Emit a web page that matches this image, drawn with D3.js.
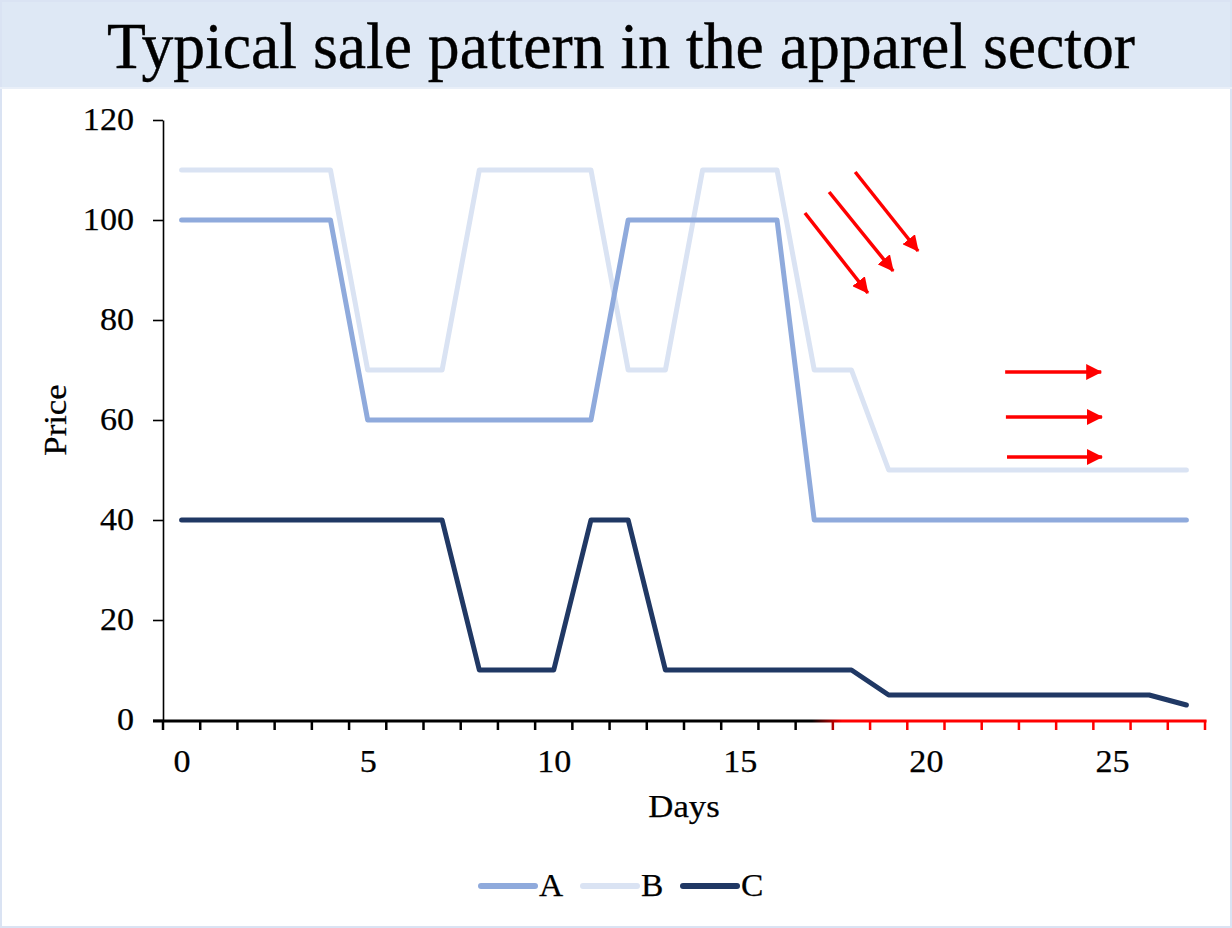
<!DOCTYPE html>
<html>
<head>
<meta charset="utf-8">
<script src="https://cdn.jsdelivr.net/npm/d3@7"></script>
<style>
  html, body { margin: 0; padding: 0; background: #fff; }
  svg { display: block; }
  text { font-family: "Liberation Serif", "Times New Roman", serif; fill: #000; }
</style>
</head>
<body>
<svg id="chart" width="1232" height="928"></svg>
<script>
// ---- data ----
const days = d3.range(0, 28);
const seriesA = [100,100,100,100,100,60,60,60,60,60,60,60,100,100,100,100,100,40,40,40,40,40,40,40,40,40,40,40];
const seriesB = [110,110,110,110,110,70,70,70,110,110,110,110,70,70,110,110,110,70,70,50,50,50,50,50,50,50,50,50];
const seriesC = [40,40,40,40,40,40,40,40,10,10,10,40,40,10,10,10,10,10,10,5,5,5,5,5,5,5,5,3];
const seriesNames = ["A", "B", "C"];
const seriesColors = ["#8FAADC", "#DAE3F3", "#203864"];
const yTicks = [0, 20, 40, 60, 80, 100, 120];
const xLabelTicks = [0, 5, 10, 15, 20, 25];
// annotation arrows in (day, price) units: [x0, y0, x1, y1]
const fallArrows = [[16.75, 101.4, 18.44, 85.4], [17.40, 105.6, 19.12, 89.8], [18.10, 109.6, 19.79, 93.8]];
const flatArrows = [[22.13, 69.6, 24.71, 69.6], [22.15, 60.6, 24.73, 60.6], [22.18, 52.6, 24.73, 52.6]];

const W = 1232, H = 928;
const FONT = "Liberation Serif, Times New Roman, serif";
const svg = d3.select("#chart");

// widen glyphs a little (the labels are set wide in this layout)
function widen(sel, f) {
  sel.each(function () {
    const len = this.getComputedTextLength();
    d3.select(this).attr("textLength", len * f).attr("lengthAdjust", "spacingAndGlyphs");
  });
}

// background and header band
svg.append("rect").attr("x", 0).attr("y", 0).attr("width", W).attr("height", H).attr("fill", "#fff");
svg.append("rect").attr("x", 0).attr("y", 0).attr("width", W).attr("height", 87).attr("fill", "#DEE8F5");
svg.append("rect").attr("x", 1).attr("y", 1).attr("width", W - 2).attr("height", H - 2)
  .attr("fill", "none").attr("stroke", "#DAE3F3").attr("stroke-width", 2);
svg.append("line").attr("x1", 0).attr("x2", W).attr("y1", 88).attr("y2", 88)
  .attr("stroke", "#E9EFF8").attr("stroke-width", 2);

svg.append("text")
  .attr("x", 107).attr("y", 68)
  .attr("textLength", 1028).attr("lengthAdjust", "spacingAndGlyphs")
  .style("font-size", "65px")
  .style("stroke", "#000").style("stroke-width", 0.4)
  .text("Typical sale pattern in the apparel sector");

// scales
const x = d3.scaleLinear().domain([-0.5, 27.5]).range([163, 1205]);
const y = d3.scaleLinear().domain([0, 120]).range([720, 120]);

// gradient: axis turns from black to red
const defs = svg.append("defs");
const grad = defs.append("linearGradient").attr("id", "axisGrad")
  .attr("gradientUnits", "userSpaceOnUse")
  .attr("x1", 812).attr("x2", 842).attr("y1", 0).attr("y2", 0);
grad.append("stop").attr("offset", 0).attr("stop-color", "#000");
grad.append("stop").attr("offset", 1).attr("stop-color", "#FF0000");

defs.append("marker").attr("id", "arrowHead")
  .attr("viewBox", "0 0 16 16").attr("refX", 15).attr("refY", 8)
  .attr("markerWidth", 16).attr("markerHeight", 16)
  .attr("markerUnits", "userSpaceOnUse").attr("orient", "auto")
  .append("path").attr("d", "M0,0 L16,8 L0,16 Z").attr("fill", "#FF0000");

// y axis
const yAxis = svg.append("g").attr("transform", `translate(${x(-0.5)},0)`)
  .call(d3.axisLeft(y).tickValues(yTicks).tickSize(10).tickSizeOuter(0).tickPadding(19));
yAxis.select(".domain").attr("stroke", "#000").attr("stroke-width", 1.6);
yAxis.selectAll(".tick line").attr("stroke", "#000").attr("stroke-width", 1.6);
yAxis.selectAll(".tick text").style("font-size", "31px").style("font-family", FONT)
  .style("stroke", "#000").style("stroke-width", 0.25);
widen(yAxis.selectAll(".tick text"), 1.1);

// x axis: tick marks sit on the category boundaries
const boundaries = d3.range(-0.5, 28, 1);
const xAxisAbs = svg.append("g");
xAxisAbs.append("line")
  .attr("x1", x(-0.5) - 10).attr("x2", x(27.5) + 1.5)
  .attr("y1", y(0) + 1).attr("y2", y(0) + 1.001)
  .attr("stroke", "url(#axisGrad)").attr("stroke-width", 3);
xAxisAbs.selectAll("line.tk").data(boundaries).join("line").attr("class", "tk")
  .attr("x1", d => x(d)).attr("x2", d => x(d) + 0.001)
  .attr("y1", y(0)).attr("y2", y(0) + 10)
  .attr("stroke", "url(#axisGrad)").attr("stroke-width", 2.5);

const xLabels = svg.append("g").attr("transform", `translate(0,${y(0)})`)
  .call(d3.axisBottom(x).tickValues(xLabelTicks).tickSize(0).tickPadding(30));
xLabels.select(".domain").remove();
xLabels.selectAll(".tick text").style("font-size", "31px").style("font-family", FONT)
  .style("stroke", "#000").style("stroke-width", 0.25);
widen(xLabels.selectAll(".tick text"), 1.1);

// axis titles
const priceT = svg.append("text").attr("transform", "translate(66,420) rotate(-90)")
  .attr("text-anchor", "middle").style("font-size", "31px")
  .style("stroke", "#000").style("stroke-width", 0.25).text("Price");
widen(priceT, 1.12);
const daysT = svg.append("text").attr("x", 684).attr("y", 817)
  .attr("text-anchor", "middle").style("font-size", "31px")
  .style("stroke", "#000").style("stroke-width", 0.25).text("Days");
widen(daysT, 1.12);

// series lines
const line = d3.line().x((d, i) => x(days[i])).y(d => y(d));
const allSeries = [seriesA, seriesB, seriesC];
// lightest series first so the others sit on top
[1, 0, 2].forEach(k => {
  svg.append("path").datum(allSeries[k])
    .attr("d", line)
    .attr("fill", "none")
    .attr("stroke", seriesColors[k])
    .attr("stroke-width", 5)
    .attr("stroke-linejoin", "round")
    .attr("stroke-linecap", "round");
});

// annotation arrows
svg.append("g").selectAll("line").data(fallArrows.concat(flatArrows)).join("line")
  .attr("x1", d => x(d[0])).attr("y1", d => y(d[1]))
  .attr("x2", d => x(d[2])).attr("y2", d => y(d[3]))
  .attr("stroke", "#FF0000").attr("stroke-width", 3.5)
  .attr("marker-end", "url(#arrowHead)");

// legend
const legendX = [481, 583, 683];
const leg = svg.append("g");
seriesNames.forEach((name, i) => {
  leg.append("line")
    .attr("x1", legendX[i]).attr("x2", legendX[i] + 54)
    .attr("y1", 886).attr("y2", 886)
    .attr("stroke", seriesColors[i]).attr("stroke-width", 6)
    .attr("stroke-linecap", "round");
  const t = leg.append("text").attr("x", legendX[i] + 58).attr("y", 896)
    .style("font-size", "31px").style("stroke", "#000").style("stroke-width", 0.25).text(name);
  widen(t, 1.08);
});
</script>
</body>
</html>
